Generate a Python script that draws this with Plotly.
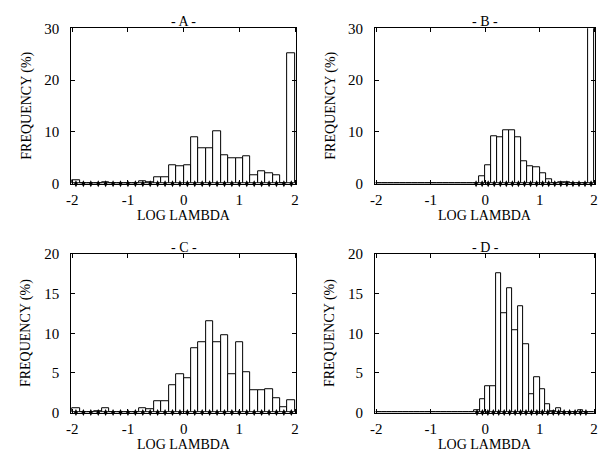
import numpy as np
import plotly.graph_objects as go

# Histogram of log(lambda) values, four panels (frequency in percent per bin)
freq_a = [0.6, 0, 0, 0.1, 0.2, 0, 0, 0, 0.1, 0.5, 0.3, 1.25, 1.25, 3.6, 3.3,
          3.5, 8.9, 6.9, 6.9, 10.1, 5.5, 5.0, 5.0, 5.3, 1.7, 2.45, 2.1, 1.6, 0, 25.2]
freq_b = [0] * 17 + [1.4, 3.6, 9.2, 8.9, 10.3, 10.3, 9.0, 4.3, 3.4, 3.1, 2.1,
                     0.9, 0.1, 0.3, 0.2, 0, 0, 0, 31.0]
freq_c = [0.6, 0, 0, 0.15, 0.5, 0, 0, 0, 0, 0.6, 0.4, 1.4, 1.4, 3.5, 4.8,
          4.3, 8.1, 8.9, 11.6, 8.9, 9.8, 4.8, 8.9, 5.1, 2.8, 2.8, 3.0, 1.8, 0.7, 1.5]
freq_d = [0] * 18 + [0.3, 1.7, 3.3, 3.3, 17.6, 12.5, 15.7, 10.4, 13.4, 8.6, 2.3,
                     4.5, 2.9, 1.1, 0.2, 0.6, 0, 0, 0, 0.3, 0, 0]

# first/last bin index that carries a baseline marker
marker_span = {"A": (0, 29), "B": (16, 35), "C": (0, 29), "D": (18, 38)}

panel_titles = ["- A -", "- B -", "- C -", "- D -"]
x_ticks = [-2, -1, 0, 1, 2]
y_ticks_top = [0, 10, 20, 30]
y_ticks_bottom = [0, 5, 10, 15, 20]
x_title = "LOG LAMBDA"
y_title = "FREQUENCY (%)"

LO, HI = -2.0, 2.0
W, H = 613, 465
FONT = "Liberation Serif, Times New Roman, serif"

panels = [
    ("A", freq_a, y_ticks_top, 30, (67, 295), (21, 182)),
    ("B", freq_b, y_ticks_top, 30, (375, 598), (21, 182)),
    ("C", freq_c, y_ticks_bottom, 20, (67, 295), (255, 419)),
    ("D", freq_d, y_ticks_bottom, 20, (375, 598), (255, 419)),
]

fig = go.Figure()
annotations = []
layout_axes = {}


def label(text, x, y, angle=0):
    return dict(
        text=text, x=x / W, y=1 - y / H, xref="paper", yref="paper",
        xanchor="center", yanchor="middle", textangle=angle,
        showarrow=False, font=dict(family=FONT, size=14, color="black"),
    )


for i, (name, freq, yticks, ymax, (x0, x1), (y0, y1)) in enumerate(panels):
    n = len(freq)
    width = (HI - LO) / n
    centers = LO + width * (np.arange(n) + 0.5)
    ax = "" if i == 0 else str(i + 1)
    xref, yref = "x" + ax, "y" + ax

    fig.add_trace(go.Bar(
        x=centers, y=freq, width=width,
        marker=dict(color="white", line=dict(color="black", width=1)),
        xaxis=xref, yaxis=yref, showlegend=False, hoverinfo="skip",
    ))
    k0, k1 = marker_span[name]
    mc = centers[k0:k1 + 1]
    fig.add_trace(go.Scatter(
        x=mc, y=[0] * len(mc), mode="markers",
        marker=dict(symbol="diamond-tall", size=5, color="black"),
        xaxis=xref, yaxis=yref, showlegend=False, hoverinfo="skip",
        cliponaxis=False,
    ))

    common = dict(
        showline=True, linecolor="black", linewidth=1, mirror="ticks",
        ticks="inside", ticklen=4, tickwidth=1, tickcolor="black",
        showgrid=False, zeroline=False,
        tickfont=dict(family=FONT, size=15, color="black"),
    )
    layout_axes["xaxis" + ax] = dict(
        domain=[x0 / W, x1 / W], range=[LO - 0.02, HI + 0.02], anchor=yref,
        tickvals=x_ticks, ticktext=[str(t) for t in x_ticks],
        ticklabelstandoff=2, **common,
    )
    layout_axes["yaxis" + ax] = dict(
        domain=[1 - y1 / H, 1 - y0 / H], range=[0, ymax], anchor=xref,
        tickvals=yticks, ticklabelstandoff=8, **common,
    )

    cx = (x0 + x1) / 2
    annotations.append(label(panel_titles[i], cx, y0 - 7))
    annotations.append(label(x_title, cx, y1 + 33))
    annotations.append(label(y_title, x0 - 45, (y0 + y1) / 2, -90))

fig.update_layout(
    width=W, height=H, margin=dict(l=0, r=0, t=0, b=0),
    paper_bgcolor="white", plot_bgcolor="white",
    bargap=0, annotations=annotations, **layout_axes,
)

fig.write_html("out.html")
